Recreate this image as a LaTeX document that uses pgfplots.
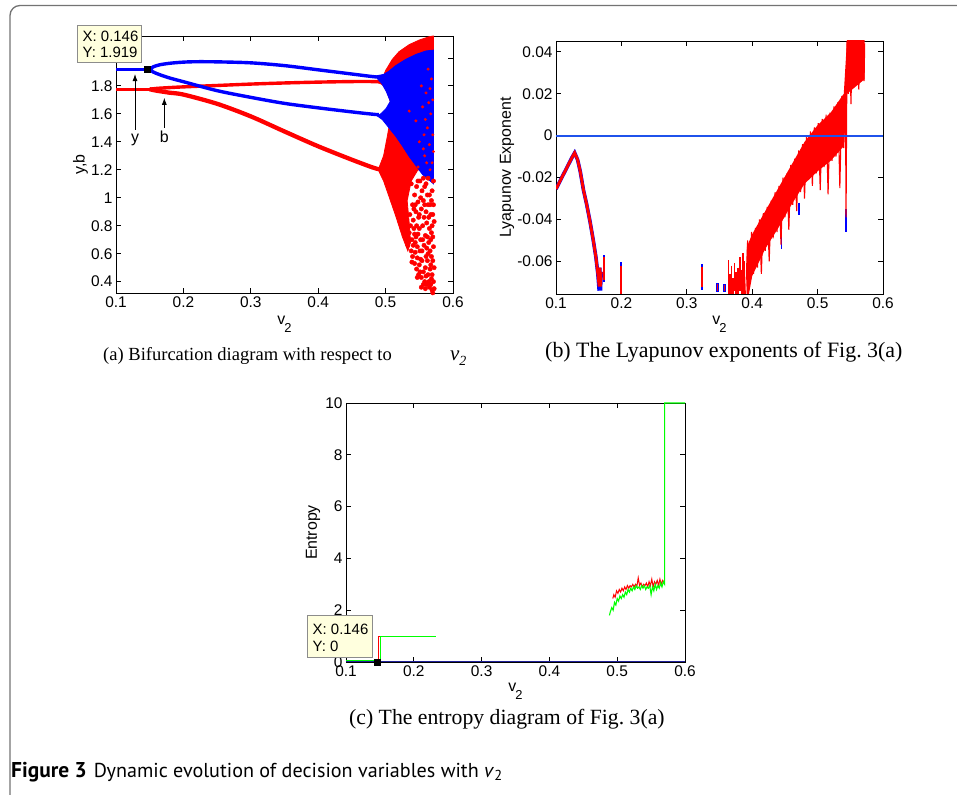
\documentclass[border=0pt]{standalone}
\usepackage{fontspec}
\setmainfont{Liberation Sans}
\newfontfamily\capserif{Liberation Serif}
\newfontfamily\figcap{PT Sans}
\usepackage{pgfplots}
\pgfplotsset{compat=1.18}
\usetikzlibrary{arrows.meta}

\definecolor{mblue}{rgb}{0,0,1}
\definecolor{mred}{rgb}{1,0,0}
\definecolor{mgreen}{rgb}{0,1,0}
\definecolor{zeroblue}{rgb}{0.12,0.32,0.92}
\definecolor{navy}{rgb}{0.12,0.12,0.6}
\definecolor{tipfill}{rgb}{1,1,0.87}
\definecolor{framegray}{rgb}{0.45,0.45,0.45}

\pgfplotsset{
  mstyle/.style={
    scale only axis,
    axis line style={line width=0.9bp},
    every tick/.style={black, line width=0.8bp},
    tick align=inside,
    major tick length=5bp,
    xmin=0.1, xmax=0.6,
    xtick={0.1,0.2,0.3,0.4,0.5,0.6},
    scaled ticks=false,
    tick label style={font=\fontsize{15.5}{17}\selectfont},
    label style={font=\fontsize{16}{18}\selectfont},
    /pgf/number format/assume math mode=true,
    xticklabel style={/pgf/number format/fixed, /pgf/number format/precision=1},
    yticklabel style={/pgf/number format/fixed, /pgf/number format/precision=2},
    xlabel={v\kern-1bp\raisebox{-8bp}{\fontsize{13}{13}\selectfont 2}},
  }
}

\begin{document}
\begin{tikzpicture}[x=1bp,y=1bp]
\useasboundingbox (0,0) rectangle (957,795);

% ---------------- (a) bifurcation diagram ----------------
\begin{axis}[mstyle, at={(116bp,502bp)}, anchor=south west,
  width=337bp, height=257bp,
  ymin=0.319, ymax=2.157,
  ytick={0.4,0.6,0.8,1,1.2,1.4,1.6,1.8},
  extra y ticks={2}, extra y tick labels={},
  ylabel={y,b},
  xlabel style={at={(axis description cs:0.5,-0.1245)}, anchor=base},
  ylabel style={at={(axis description cs:-0.105,0.5)}, anchor=center},
]
% red (b) branches
\addplot[mred, line width=3.4bp] coordinates {(0.1,1.776) (0.151,1.776)};
\addplot[mred, line width=3.4bp, smooth] coordinates {
 (0.15,1.776) (0.16,1.782) (0.18,1.788) (0.2,1.793) (0.25,1.803) (0.3,1.813)
 (0.35,1.821) (0.4,1.827) (0.45,1.831) (0.48,1.831) (0.493,1.826) (0.501,1.79)
 (0.506,1.73) (0.509,1.69)};
\addplot[mred, line width=4.3bp, smooth] coordinates {
 (0.15,1.776) (0.16,1.766) (0.18,1.751) (0.2,1.738) (0.25,1.672) (0.3,1.582)
 (0.35,1.474) (0.4,1.368) (0.45,1.272) (0.48,1.218) (0.49,1.204)};
% red chaotic region
\addplot[fill=mred, draw=mred, line width=0.8bp] coordinates {
 (0.495,1.85) (0.50,1.91) (0.51,1.99) (0.52,2.045) (0.535,2.095) (0.55,2.128)
 (0.565,2.152) (0.571,2.157) (0.571,1.15) (0.56,1.18) (0.548,1.2) (0.538,1.12)
 (0.532,0.98) (0.535,0.82) (0.537,0.68) (0.533,0.62) (0.525,0.72) (0.515,0.87)
 (0.505,1.01) (0.497,1.12) (0.489,1.2) (0.497,1.3) (0.503,1.45) (0.509,1.62)
 (0.505,1.75)} -- cycle;
% blue (y) branches
\addplot[mblue, line width=3.4bp] coordinates {(0.1,1.919) (0.146,1.919)};
\addplot[mblue, line width=3.4bp, smooth] coordinates {
 (0.151,1.919) (0.155,1.936) (0.165,1.951) (0.18,1.962) (0.2,1.97) (0.22,1.973)
 (0.25,1.972) (0.3,1.965) (0.35,1.945) (0.4,1.915) (0.45,1.885) (0.48,1.867)
 (0.492,1.862)};
\addplot[mblue, line width=3.4bp, smooth] coordinates {
 (0.151,1.919) (0.155,1.9) (0.165,1.88) (0.18,1.856) (0.2,1.83) (0.25,1.766)
 (0.3,1.718) (0.35,1.675) (0.4,1.643) (0.45,1.614) (0.48,1.598) (0.49,1.594)};
\addplot[fill=mblue, draw=mblue, line width=0.8bp] coordinates {
 (0.488,1.874) (0.497,1.882) (0.505,1.905) (0.515,1.945) (0.53,1.99) (0.545,2.025)
 (0.56,2.05) (0.571,2.056) (0.571,1.10) (0.565,1.125) (0.555,1.165) (0.545,1.23)
 (0.535,1.295) (0.525,1.37) (0.515,1.44) (0.505,1.5) (0.495,1.56) (0.488,1.584)
 (0.494,1.605) (0.501,1.64) (0.507,1.69) (0.501,1.76) (0.494,1.82) (0.488,1.85)} -- cycle;
% scattered red points below the blue band
\addplot[only marks, mark=*, mark size=2.2bp, mark options={draw=mred, fill=mred}] coordinates {
 (0.536,0.70) (0.538,0.62) (0.540,0.58) (0.541,0.66) (0.543,0.53) (0.544,0.61)
 (0.546,0.49) (0.547,0.57) (0.545,0.72) (0.542,0.78) (0.549,0.45) (0.550,0.52)
 (0.551,0.62) (0.552,0.70) (0.553,0.43) (0.554,0.55) (0.555,0.80) (0.556,0.47)
 (0.557,0.66) (0.558,0.40) (0.549,0.86) (0.553,0.92) (0.556,0.98) (0.559,0.50)
 (0.560,0.58) (0.561,0.38) (0.562,0.72) (0.563,0.45) (0.564,0.86) (0.565,0.36)
 (0.566,0.62) (0.567,0.52) (0.568,0.42) (0.569,0.34) (0.570,0.32) (0.568,0.75)
 (0.566,0.95) (0.569,1.05) (0.562,1.02) (0.570,0.88) (0.571,0.65) (0.560,0.90)
 (0.536,0.88) (0.540,0.95) (0.543,1.02) (0.538,1.10) (0.546,1.08) (0.548,0.97)
 (0.551,1.12) (0.545,0.90) (0.558,1.08) (0.563,1.14) (0.571,1.12) (0.554,1.05)
 (0.533,0.66) (0.535,0.75) (0.537,0.80) (0.539,0.70) (0.541,0.84) (0.543,0.74)
 (0.544,0.95) (0.546,0.80) (0.547,0.65) (0.548,0.74) (0.550,0.88) (0.551,0.47)
 (0.552,0.56) (0.554,0.62) (0.555,0.70) (0.556,0.38) (0.557,0.86) (0.558,0.95)
 (0.559,0.73) (0.560,0.44) (0.561,0.64) (0.561,0.82) (0.562,0.55) (0.563,0.95)
 (0.564,0.68) (0.564,0.40) (0.565,0.78) (0.566,0.49) (0.567,0.88) (0.567,0.70)
 (0.568,0.58) (0.568,0.98) (0.569,0.45) (0.569,0.80) (0.570,0.55) (0.570,0.72)
 (0.571,0.40) (0.571,0.95) (0.572,0.50) (0.572,0.83) (0.565,1.02) (0.560,1.10)
 (0.556,1.14) (0.552,1.00) (0.548,1.12) (0.542,0.92) (0.550,0.78) (0.544,0.68)
 (0.539,0.54) (0.553,0.36) (0.567,0.38) (0.572,0.35) (0.559,0.35) (0.547,0.43)
 (0.563,0.60)};
% small red specks inside the blue band
\addplot[only marks, mark=*, mark size=1.3bp, mark options={draw=mred, fill=mred}] coordinates {
 (0.545,1.55) (0.550,1.40) (0.555,1.65) (0.558,1.30) (0.560,1.75) (0.562,1.50)
 (0.565,1.38) (0.567,1.60) (0.568,1.85) (0.569,1.25) (0.570,1.45) (0.570,1.70)
 (0.566,1.20) (0.563,1.92) (0.553,1.80) (0.548,1.22) (0.559,1.56) (0.571,1.33)
 (0.535,1.62) (0.557,1.45) (0.564,1.68) (0.561,1.25) (0.556,1.35) (0.566,1.78)};
% data tip marker
\addplot[only marks, mark=square*, mark size=3bp, mark options={draw=black, fill=black}] coordinates {(0.146,1.919)};
% annotations
\draw[-{Latex[length=7bp,width=5bp]}, line width=0.8bp] (axis cs:0.1282,1.485) -- (axis cs:0.1282,1.885);
\node[font=\fontsize{16}{18}\selectfont] at (axis cs:0.1282,1.413) {y};
\draw[-{Latex[length=7bp,width=5bp]}, line width=0.8bp] (axis cs:0.1717,1.499) -- (axis cs:0.1717,1.715);
\node[font=\fontsize{16}{18}\selectfont] at (axis cs:0.1717,1.433) {b};
\end{axis}

% ---------------- (b) Lyapunov exponents ----------------
\begin{axis}[mstyle, at={(556bp,501bp)}, anchor=south west,
  width=327bp, height=253bp,
  ymin=-0.0756, ymax=0.0452,
  ytick={-0.06,-0.04,-0.02,0,0.02,0.04},
  ylabel={Lyapunov Exponent},
  unbounded coords=jump,
  xlabel style={at={(axis description cs:0.5,-0.12)}, anchor=base},
  ylabel style={at={(axis description cs:-0.15,0.5)}, anchor=center},
]
% hump
\addplot[mblue, line width=3.6bp] coordinates {
 (0.1,-0.0255) (0.11,-0.0193) (0.12,-0.0132) (0.125,-0.0101) (0.1285,-0.0082)
 (0.133,-0.0115) (0.137,-0.017) (0.142,-0.026) (0.147,-0.033) (0.152,-0.041)
 (0.157,-0.050) (0.161,-0.058) (0.164,-0.066) (0.166,-0.074) (0.167,-0.063)
 (0.168,-0.074) (0.169,-0.065)};
\addplot[mred, line width=2.9bp] coordinates {
 (0.1,-0.0255) (0.11,-0.0193) (0.12,-0.0132) (0.125,-0.0101) (0.1285,-0.0082)
 (0.133,-0.0115) (0.137,-0.017) (0.142,-0.026) (0.147,-0.033) (0.152,-0.041)
 (0.157,-0.050) (0.161,-0.058) (0.164,-0.066) (0.166,-0.072) (0.167,-0.063)
 (0.168,-0.072) (0.169,-0.065)};
% isolated segments
\addplot[mblue, line width=2.2bp] coordinates {
 (0.1735,-0.057) (0.1735,-0.070) (0.1736,nan)
 (0.1995,-0.0605) (0.1995,-0.0756) (0.1996,nan)
 (0.3235,-0.0615) (0.3235,-0.0735) (0.3236,nan)
 (0.347,-0.0705) (0.347,-0.0745) (0.3471,nan)
 (0.3575,-0.071) (0.3575,-0.0745)};
\addplot[mred, line width=1.4bp] coordinates {
 (0.1735,-0.058) (0.1735,-0.069) (0.1736,nan)
 (0.1995,-0.062) (0.1995,-0.0756) (0.1996,nan)
 (0.3235,-0.0625) (0.3235,-0.0725) (0.3236,nan)
 (0.347,-0.071) (0.347,-0.074) (0.3471,nan)
 (0.3575,-0.0715) (0.3575,-0.074)};
% blue spikes
\addplot[mblue, line width=1.2bp] coordinates {
 (0.3785,-0.068) (0.3785,-0.0756) (0.3786,nan)
 (0.4445,-0.047) (0.4445,-0.054) (0.4446,nan)
 (0.4715,-0.032) (0.4715,-0.038) (0.4716,nan)
 (0.5435,-0.035) (0.5435,-0.046) (0.5436,nan)
 (0.549,0.030) (0.549,0.0350)};
% left spikes of the band
\addplot[mred, line width=1.5bp] coordinates {
 (0.3635,-0.0595) (0.3635,-0.0756) (0.3636,nan)
 (0.3660,-0.0660) (0.3660,-0.0756) (0.3661,nan)
 (0.3685,-0.0620) (0.3685,-0.0756) (0.3686,nan)
 (0.3710,-0.0680) (0.3710,-0.0756) (0.3711,nan)
 (0.3730,-0.0610) (0.3730,-0.0740) (0.3731,nan)
 (0.3755,-0.0650) (0.3755,-0.0756) (0.3756,nan)
 (0.3780,-0.0630) (0.3780,-0.0756) (0.3781,nan)
 (0.3810,-0.0580) (0.3810,-0.0740) (0.3811,nan)
 (0.3835,-0.0640) (0.3835,-0.0756) (0.3836,nan)
 (0.3860,-0.0560) (0.3860,-0.0756) (0.3861,nan)
 (0.3885,-0.0600) (0.3885,-0.0756)};
% main band
\addplot[fill=mred, draw=none] coordinates {
 (0.392,-0.0756) (0.392,-0.053) (0.40,-0.047) (0.42,-0.036)
 (0.44,-0.025) (0.46,-0.014) (0.48,-0.003) (0.50,0.005) (0.52,0.011)
 (0.54,0.020) (0.545,0.046) (0.572,0.046) (0.572,0.027) (0.545,0.020)
 (0.54,-0.005) (0.52,-0.012) (0.50,-0.017) (0.48,-0.023) (0.46,-0.033)
 (0.44,-0.044) (0.42,-0.054) (0.40,-0.067) (0.395,-0.0756)} -- cycle;
\addplot[mred, line width=1.1bp] coordinates {
 (0.390,-0.0756) (0.393,-0.050) (0.396,-0.070) (0.399,-0.046) (0.402,-0.066) (0.405,-0.044)
 (0.408,-0.063) (0.411,-0.040) (0.414,-0.066) (0.417,-0.037) (0.420,-0.055)
 (0.423,-0.034) (0.426,-0.060) (0.429,-0.031) (0.432,-0.049) (0.435,-0.027)
 (0.438,-0.046) (0.441,-0.024) (0.444,-0.052) (0.447,-0.020) (0.450,-0.039)
 (0.453,-0.018) (0.456,-0.045) (0.459,-0.014) (0.462,-0.033) (0.465,-0.011)
 (0.468,-0.036) (0.471,-0.007) (0.474,-0.027) (0.477,-0.004) (0.480,-0.030)
 (0.483,0.000) (0.486,-0.021) (0.489,0.002) (0.492,-0.024) (0.495,0.004)
 (0.498,-0.018) (0.501,0.006) (0.504,-0.026) (0.507,0.008) (0.510,-0.015)
 (0.513,0.010) (0.516,-0.028) (0.519,0.011) (0.522,-0.012) (0.525,0.014)
 (0.528,-0.010) (0.531,0.016) (0.534,-0.025) (0.537,0.019) (0.540,-0.006)
 (0.5425,0.022) (0.5435,-0.039) (0.545,0.045) (0.547,0.020) (0.549,0.046)
 (0.551,0.015) (0.553,0.046) (0.555,0.024) (0.557,0.046) (0.559,0.027)
 (0.561,0.046) (0.563,0.022) (0.565,0.046) (0.567,0.028) (0.569,0.046)
 (0.571,0.026) (0.572,0.044)};
% zero line
\addplot[zeroblue, line width=2bp] coordinates {(0.1,0) (0.6,0)};
\end{axis}

% ---------------- (c) entropy ----------------
\begin{axis}[mstyle, at={(346bp,133bp)}, anchor=south west,
  width=339bp, height=259bp,
  ymin=0, ymax=10,
  ytick={0,2,4,6,8,10},
  yticklabel style={/pgf/number format/precision=0},
  ylabel={Entropy},
  xlabel style={at={(axis description cs:0.5,-0.1147)}, anchor=base},
  ylabel style={at={(axis description cs:-0.097,0.5)}, anchor=center},
]
\addplot[mred, line width=1bp] coordinates {
 (0.1,0.03) (0.1475,0.03) (0.1475,1) (0.213,1)};
\addplot[mgreen, line width=1bp] coordinates {
 (0.1,0.06) (0.1505,0.06) (0.1505,1) (0.2327,1)};
\addplot[mred, line width=1bp] coordinates {
 (0.4935,2.45) (0.495,2.6) (0.497,2.5) (0.499,2.75) (0.501,2.65) (0.503,2.8)
 (0.505,2.7) (0.507,2.85) (0.509,2.75) (0.511,2.9) (0.513,2.8) (0.515,2.95)
 (0.517,2.85) (0.519,2.95) (0.521,2.9) (0.523,3.0) (0.525,2.9) (0.527,3.0)
 (0.529,2.92) (0.531,3.25) (0.533,2.95) (0.535,3.05) (0.537,2.9) (0.539,3.0)
 (0.541,2.95) (0.543,3.05) (0.545,2.9) (0.547,3.1) (0.549,2.95) (0.551,3.2)
 (0.553,2.9) (0.555,3.1) (0.557,3.0) (0.559,3.15) (0.561,2.95) (0.563,3.2)
 (0.565,3.0) (0.567,3.15) (0.569,3.05) (0.570,3.0)};
\addplot[mgreen, line width=1.1bp] coordinates {
 (0.4885,1.8) (0.490,1.95) (0.492,2.1) (0.494,2.0) (0.496,2.3) (0.498,2.2)
 (0.500,2.45) (0.502,2.35) (0.504,2.55) (0.506,2.45) (0.508,2.6) (0.510,2.5)
 (0.512,2.7) (0.514,2.6) (0.516,2.8) (0.518,2.7) (0.520,2.85) (0.522,2.75)
 (0.524,2.9) (0.526,2.8) (0.528,2.95) (0.530,2.85) (0.532,2.9) (0.534,2.8)
 (0.536,2.95) (0.538,2.85) (0.540,2.95) (0.542,2.8) (0.544,2.9) (0.546,2.85)
 (0.548,2.95) (0.550,2.6) (0.552,2.9) (0.554,2.75) (0.556,3.0) (0.558,2.8)
 (0.560,2.95) (0.562,2.85) (0.564,3.05) (0.566,2.9) (0.568,3.1) (0.570,3.0)
 (0.570,10) (0.6,10)};
\addplot[navy, line width=2bp] coordinates {(0.1,0) (0.6,0)};
\addplot[only marks, mark=square*, mark size=3bp, mark options={draw=black, fill=black}] coordinates {(0.146,0)};
\end{axis}

% ---------------- data tips ----------------
\draw[fill=tipfill, draw=black!45, line width=0.6bp] (77,733) rectangle (141,770);
\node[anchor=base west, inner sep=0, font=\fontsize{15}{17}\selectfont] at (82.5,753.3) {X: 0.146};
\node[anchor=base west, inner sep=0, font=\fontsize{15}{17}\selectfont] at (82.5,737.3) {Y: 1.919};
\draw[fill=tipfill, draw=black!45, line width=0.6bp] (307.3,137.3) rectangle (372.7,179.7);
\node[anchor=base west, inner sep=0, font=\fontsize{15}{17}\selectfont] at (312.5,160.7) {X: 0.146};
\node[anchor=base west, inner sep=0, font=\fontsize{15}{17}\selectfont] at (312.5,143.3) {Y: 0};

% ---------------- captions and frame ----------------
\node[anchor=base west, inner sep=0, font=\capserif\fontsize{18.6}{20}\selectfont] at (103,434) {(a) Bifurcation diagram with respect to};
\node[anchor=base west, inner sep=0, font=\capserif\fontsize{21}{22}\selectfont] at (450,434) {\itshape v\raisebox{-4.5bp}{\fontsize{14}{14}\selectfont 2}};
\node[anchor=base west, inner sep=0, font=\capserif\fontsize{22}{24}\selectfont] at (545,437) {(b) The Lyapunov exponents of Fig.\ 3(a)};
\node[anchor=base west, inner sep=0, font=\capserif\fontsize{21.8}{24}\selectfont] at (349,70) {(c) The entropy diagram of Fig.\ 3(a)};
\node[anchor=base west, inner sep=0, font=\figcap\fontsize{20.2}{24}\selectfont] at (11,17) {{\fontsize{21.5}{24}\selectfont\bfseries Figure 3}\hspace{0.35em}Dynamic evolution of decision variables with \textit{v}\raisebox{-3bp}{\fontsize{14.5}{14.5}\selectfont 2}};
\draw[framegray, line width=1.3bp, rounded corners=10bp] (10,-30) -- (10,789.5) -- (990,789.5);
\end{tikzpicture}
\end{document}
